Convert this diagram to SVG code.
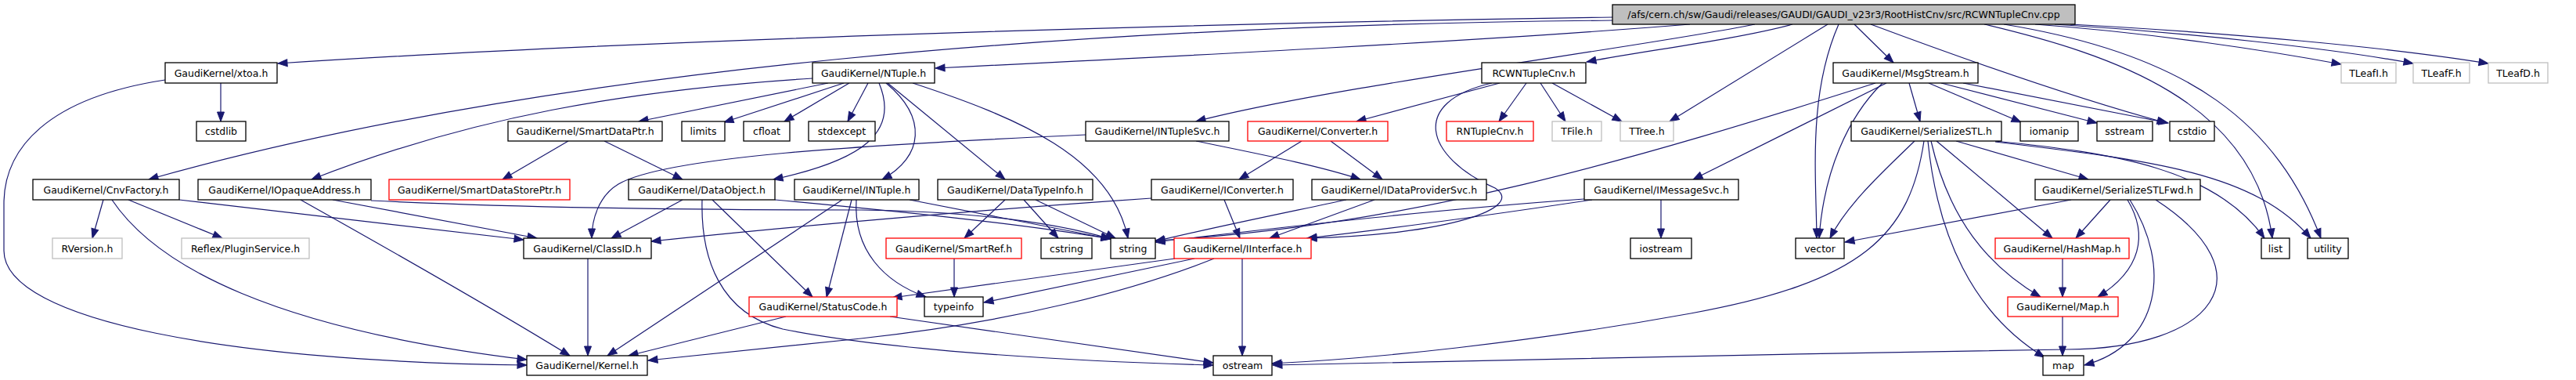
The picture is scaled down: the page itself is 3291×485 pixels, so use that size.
<svg xmlns="http://www.w3.org/2000/svg" width="3291" height="485" viewBox="0 0 3291 485">
<style>
.n rect{fill:#fff;stroke:#000;stroke-width:1.3}
.g rect{stroke:#bfbfbf}
.r rect{stroke:#ff0000}
.root rect{fill:#bfbfbf}
text{font-family:"DejaVu Sans","Liberation Sans",sans-serif;font-size:12.5px;text-anchor:middle;fill:#000}
#edges path{fill:none;stroke:#191970;stroke-width:1.2;marker-end:url(#arr)}
</style>
<defs>
<marker id="arr" markerUnits="userSpaceOnUse" markerWidth="12" markerHeight="9" refX="12" refY="4.5" orient="auto" overflow="visible">
<path d="M0,0 L12,4.5 L0,9 z" fill="#191970" stroke="#191970" stroke-width="1"/>
</marker>
</defs>
<rect width="3291" height="485" fill="#fff"/>
<g id="edges">
<path d="M2060,22 C1500,30 800,52 355,81"/>
<path d="M2060,26 C1400,32 700,85 190,229"/>
<path d="M2159,31 C1900,52 1500,72 1195,87"/>
<path d="M2242,31 C2100,60 1700,110 1528,155"/>
<path d="M2290,31 C2220,50 2100,65 2027,79"/>
<path d="M2335,31 L2133,155"/>
<path d="M2349,31 C2310,120 2320,220 2321,304"/>
<path d="M2369,31 L2419,80"/>
<path d="M2390,31 C2500,72 2650,125 2768,157"/>
<path d="M2600,31 C2750,42 2900,65 2991,82"/>
<path d="M2625,31 C2800,42 2980,62 3083,81"/>
<path d="M2645,31 C2850,42 3050,60 3179,81"/>
<path d="M2535,31 C2700,70 2880,130 2903,304"/>
<path d="M2560,31 C2800,70 2910,160 2965,304"/>
<path d="M282,106 L282,155"/>
<path d="M211,102 C60,125 5,190 5,260 L5,320 C5,410 300,462 673,466"/>
<path d="M132,255 L118,304"/>
<path d="M164,255 L284,304"/>
<path d="M143,255 C200,340 350,420 673,459"/>
<path d="M229,255 L669,306"/>
<path d="M425,255 L686,304"/>
<path d="M384,255 C500,320 640,400 728,454"/>
<path d="M474,256 C600,262 800,268 1100,268 C1250,270 1350,285 1419,305"/>
<path d="M726,180 L642,229"/>
<path d="M772,180 L872,229"/>
<path d="M1058,106 L816,155"/>
<path d="M1078,106 L925,156"/>
<path d="M1085,106 L1002,155"/>
<path d="M1109,106 L1083,155"/>
<path d="M1038,100 C800,115 600,150 398,229"/>
<path d="M1123,106 C1150,170 1100,205 988,229"/>
<path d="M1132,106 C1185,150 1180,200 1127,229"/>
<path d="M1134,106 L1284,229"/>
<path d="M1166,106 C1300,150 1420,200 1441,304"/>
<path d="M1916,106 L1733,155"/>
<path d="M1950,106 L1915,155"/>
<path d="M1968,106 L2000,155"/>
<path d="M1983,106 L2072,155"/>
<path d="M1906,106 C1800,130 1820,200 1910,240 C1950,265 1850,300 1670,304"/>
<path d="M1663,180 L1583,229"/>
<path d="M1700,180 L1766,229"/>
<path d="M1528,180 C1600,195 1680,210 1738,229"/>
<path d="M1387,172 C1100,185 850,200 790,235 C765,250 756,280 756,304"/>
<path d="M872,255 L781,304"/>
<path d="M910,255 L1038,379"/>
<path d="M897,255 C895,330 920,400 1000,420 C1150,450 1400,462 1550,466"/>
<path d="M990,255 C1150,270 1300,285 1419,305"/>
<path d="M1076,255 L776,454"/>
<path d="M1088,255 L1056,379"/>
<path d="M1094,255 C1090,320 1130,360 1183,379"/>
<path d="M1162,255 L1419,305"/>
<path d="M1284,255 L1232,304"/>
<path d="M1308,255 L1352,304"/>
<path d="M1323,255 L1425,304"/>
<path d="M1564,255 L1584,304"/>
<path d="M1471,253 C1250,268 1000,290 832,308"/>
<path d="M1756,255 L1622,304"/>
<path d="M1720,255 C1650,270 1550,290 1476,308"/>
<path d="M2122,255 L2122,304"/>
<path d="M2024,254 C1800,270 1600,295 1476,309"/>
<path d="M2034,255 C1900,275 1750,295 1670,304"/>
<path d="M2410,106 L2163,229"/>
<path d="M2396,106 C2100,200 1800,290 1476,307"/>
<path d="M2439,106 L2453,155"/>
<path d="M2464,106 L2582,156"/>
<path d="M2480,106 L2679,157"/>
<path d="M2508,106 L2770,157"/>
<path d="M2405,106 C2360,150 2330,220 2324,304"/>
<path d="M2446,180 C2410,215 2360,260 2338,304"/>
<path d="M2458,180 C2440,300 2380,360 2160,400 C1950,438 1750,458 1625,464"/>
<path d="M2463,180 C2475,300 2520,400 2612,456"/>
<path d="M2467,180 C2490,280 2540,340 2607,379"/>
<path d="M2474,180 L2622,304"/>
<path d="M2499,180 L2668,229"/>
<path d="M2549,180 C2700,195 2830,215 2893,304"/>
<path d="M2549,181 C2750,205 2880,220 2952,304"/>
<path d="M2646,255 L2357,309"/>
<path d="M2696,255 L2652,304"/>
<path d="M2718,255 C2745,300 2735,345 2680,379"/>
<path d="M2721,255 C2775,340 2760,440 2663,466"/>
<path d="M2754,255 C2900,350 2830,445 2640,446 C2300,450 1900,462 1626,466"/>
<path d="M2635,330 L2635,379"/>
<path d="M2635,404 L2635,454"/>
<path d="M1219,330 L1219,379"/>
<path d="M1501,330 L1140,380"/>
<path d="M1526,330 L1257,386"/>
<path d="M1551,330 C1450,370 1300,410 1100,432 C1000,443 900,452 828,460"/>
<path d="M1587,330 L1587,454"/>
<path d="M1004,404 L803,454"/>
<path d="M1137,404 L1550,463"/>
<path d="M751,330 L751,454"/>
</g>
<g id="n_root" class="n root"><rect x="2060" y="6" width="591" height="25"/><text x="2355.5" y="23">/afs/cern.ch/sw/Gaudi/releases/GAUDI/GAUDI_v23r3/RootHistCnv/src/RCWNTupleCnv.cpp</text></g>
<g id="n_xtoa" class="n"><rect x="211" y="80" width="143" height="26"/><text x="282.5" y="97.5">GaudiKernel/xtoa.h</text></g>
<g id="n_ntuple" class="n"><rect x="1038" y="80" width="156" height="26"/><text x="1116" y="97.5">GaudiKernel/NTuple.h</text></g>
<g id="n_rcwh" class="n"><rect x="1893" y="80" width="133" height="26"/><text x="1959.5" y="97.5">RCWNTupleCnv.h</text></g>
<g id="n_msgstream" class="n"><rect x="2342" y="80" width="185" height="26"/><text x="2434.5" y="97.5">GaudiKernel/MsgStream.h</text></g>
<g id="n_tleafi" class="n g"><rect x="2991" y="80" width="70" height="26"/><text x="3026" y="97.5">TLeafI.h</text></g>
<g id="n_tleaff" class="n g"><rect x="3083" y="80" width="72" height="26"/><text x="3119" y="97.5">TLeafF.h</text></g>
<g id="n_tleafd" class="n g"><rect x="3179" y="80" width="76" height="26"/><text x="3217" y="97.5">TLeafD.h</text></g>
<g id="n_cstdlib" class="n"><rect x="251" y="155" width="63" height="25"/><text x="282.5" y="172">cstdlib</text></g>
<g id="n_smartdataptr" class="n"><rect x="649" y="155" width="197" height="25"/><text x="747.5" y="172">GaudiKernel/SmartDataPtr.h</text></g>
<g id="n_limits" class="n"><rect x="871" y="155" width="55" height="25"/><text x="898.5" y="172">limits</text></g>
<g id="n_cfloat" class="n"><rect x="950" y="155" width="59" height="25"/><text x="979.5" y="172">cfloat</text></g>
<g id="n_stdexcept" class="n"><rect x="1033" y="155" width="85" height="25"/><text x="1075.5" y="172">stdexcept</text></g>
<g id="n_intuplesvc" class="n"><rect x="1387" y="155" width="183" height="25"/><text x="1478.5" y="172">GaudiKernel/INTupleSvc.h</text></g>
<g id="n_converter" class="n r"><rect x="1594" y="155" width="179" height="25"/><text x="1683.5" y="172">GaudiKernel/Converter.h</text></g>
<g id="n_rntuplecnv" class="n r"><rect x="1848" y="155" width="111" height="25"/><text x="1903.5" y="172">RNTupleCnv.h</text></g>
<g id="n_tfile" class="n g"><rect x="1983" y="155" width="63" height="25"/><text x="2014.5" y="172">TFile.h</text></g>
<g id="n_ttree" class="n g"><rect x="2070" y="155" width="68" height="25"/><text x="2104" y="172">TTree.h</text></g>
<g id="n_serializestl" class="n"><rect x="2365" y="155" width="192" height="25"/><text x="2461" y="172">GaudiKernel/SerializeSTL.h</text></g>
<g id="n_iomanip" class="n"><rect x="2581" y="155" width="74" height="25"/><text x="2618" y="172">iomanip</text></g>
<g id="n_sstream" class="n"><rect x="2679" y="155" width="71" height="25"/><text x="2714.5" y="172">sstream</text></g>
<g id="n_cstdio" class="n"><rect x="2772" y="155" width="57" height="25"/><text x="2800.5" y="172">cstdio</text></g>
<g id="n_cnvfactory" class="n"><rect x="42" y="229" width="187" height="26"/><text x="135.5" y="246.5">GaudiKernel/CnvFactory.h</text></g>
<g id="n_iopaque" class="n"><rect x="253" y="229" width="221" height="26"/><text x="363.5" y="246.5">GaudiKernel/IOpaqueAddress.h</text></g>
<g id="n_smartdatastoreptr" class="n r"><rect x="497" y="229" width="231" height="26"/><text x="612.5" y="246.5">GaudiKernel/SmartDataStorePtr.h</text></g>
<g id="n_dataobject" class="n"><rect x="803" y="229" width="187" height="26"/><text x="896.5" y="246.5">GaudiKernel/DataObject.h</text></g>
<g id="n_intuple" class="n"><rect x="1015" y="229" width="159" height="26"/><text x="1094.5" y="246.5">GaudiKernel/INTuple.h</text></g>
<g id="n_datatypeinfo" class="n"><rect x="1198" y="229" width="198" height="26"/><text x="1297" y="246.5">GaudiKernel/DataTypeInfo.h</text></g>
<g id="n_iconverter" class="n"><rect x="1471" y="229" width="181" height="26"/><text x="1561.5" y="246.5">GaudiKernel/IConverter.h</text></g>
<g id="n_idataprovidersvc" class="n"><rect x="1676" y="229" width="223" height="26"/><text x="1787.5" y="246.5">GaudiKernel/IDataProviderSvc.h</text></g>
<g id="n_imessagesvc" class="n"><rect x="2024" y="229" width="197" height="26"/><text x="2122.5" y="246.5">GaudiKernel/IMessageSvc.h</text></g>
<g id="n_serializestlfwd" class="n"><rect x="2600" y="229" width="211" height="26"/><text x="2705.5" y="246.5">GaudiKernel/SerializeSTLFwd.h</text></g>
<g id="n_rversion" class="n g"><rect x="67" y="304" width="89" height="26"/><text x="111.5" y="321.5">RVersion.h</text></g>
<g id="n_reflex" class="n g"><rect x="232" y="304" width="163" height="26"/><text x="313.5" y="321.5">Reflex/PluginService.h</text></g>
<g id="n_classid" class="n"><rect x="669" y="304" width="163" height="26"/><text x="750.5" y="321.5">GaudiKernel/ClassID.h</text></g>
<g id="n_smartref" class="n r"><rect x="1132" y="304" width="173" height="26"/><text x="1218.5" y="321.5">GaudiKernel/SmartRef.h</text></g>
<g id="n_cstring" class="n"><rect x="1330" y="304" width="65" height="26"/><text x="1362.5" y="321.5">cstring</text></g>
<g id="n_string" class="n"><rect x="1419" y="304" width="57" height="26"/><text x="1447.5" y="321.5">string</text></g>
<g id="n_iinterface" class="n r"><rect x="1500" y="304" width="175" height="26"/><text x="1587.5" y="321.5">GaudiKernel/IInterface.h</text></g>
<g id="n_iostream" class="n"><rect x="2083" y="304" width="78" height="26"/><text x="2122" y="321.5">iostream</text></g>
<g id="n_vector" class="n"><rect x="2294" y="304" width="62" height="26"/><text x="2325" y="321.5">vector</text></g>
<g id="n_hashmap" class="n r"><rect x="2549" y="304" width="171" height="26"/><text x="2634.5" y="321.5">GaudiKernel/HashMap.h</text></g>
<g id="n_list" class="n"><rect x="2889" y="304" width="36" height="26"/><text x="2907" y="321.5">list</text></g>
<g id="n_utility" class="n"><rect x="2948" y="304" width="52" height="26"/><text x="2974" y="321.5">utility</text></g>
<g id="n_statuscode" class="n r"><rect x="957" y="379" width="189" height="25"/><text x="1051.5" y="396">GaudiKernel/StatusCode.h</text></g>
<g id="n_typeinfo" class="n"><rect x="1181" y="379" width="75" height="25"/><text x="1218.5" y="396">typeinfo</text></g>
<g id="n_map_h" class="n r"><rect x="2565" y="379" width="141" height="25"/><text x="2635.5" y="396">GaudiKernel/Map.h</text></g>
<g id="n_kernel" class="n"><rect x="673" y="454" width="154" height="25"/><text x="750" y="471">GaudiKernel/Kernel.h</text></g>
<g id="n_ostream" class="n"><rect x="1550" y="454" width="75" height="25"/><text x="1587.5" y="471">ostream</text></g>
<g id="n_map" class="n"><rect x="2610" y="454" width="52" height="25"/><text x="2636" y="471">map</text></g>
</svg>
